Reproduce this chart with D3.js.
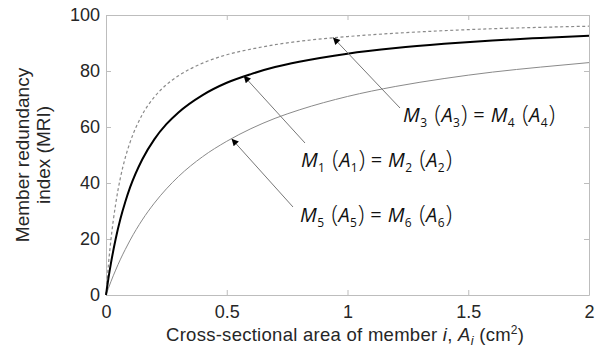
<!DOCTYPE html>
<html>
<head>
<meta charset="utf-8">
<script src="https://cdn.jsdelivr.net/npm/d3@7"></script>
<style>
  html, body { margin: 0; padding: 0; background: #fff; }
  svg { display: block; }
</style>
</head>
<body>
<svg id="chart" width="601" height="353"></svg>
<script>
// Cross-sectional area of member i (cm^2)
const area = [0, 0.01, 0.02, 0.04, 0.06, 0.08, 0.1, 0.15, 0.2, 0.25, 0.3, 0.4, 0.5,
              0.6, 0.7, 0.8, 1.0, 1.2, 1.4, 1.6, 1.8, 2.0];
// Member redundancy index (MRI) for each pair of members
const mriM3M4 = [0, 10.8, 19.4, 32.5, 42.0, 49.1, 54.6, 64.4, 70.7, 75.1, 78.3, 82.8, 85.8,
                 87.8, 89.4, 90.6, 92.3, 93.5, 94.4, 95.1, 95.6, 96.0];
const mriM1M2 = [0, 5.9, 11.1, 20.0, 27.3, 33.3, 38.5, 48.4, 55.6, 61.0, 65.2, 71.4, 75.8,
                 78.9, 81.4, 83.3, 86.2, 88.2, 89.7, 90.9, 91.8, 92.6];
const mriM5M6 = [0, 2.4, 4.7, 8.9, 12.8, 16.3, 19.6, 26.8, 32.8, 37.9, 42.3, 49.4, 54.9,
                 59.4, 63.1, 66.1, 70.9, 74.5, 77.3, 79.6, 81.4, 83.0];

const xTicks = [0, 0.5, 1, 1.5, 2];
const yTicks = [0, 20, 40, 60, 80, 100];

// Annotations: member pair numbers, and the [area, MRI] point each arrow targets
const labels = [
  { pair: ["3", "4"], target: [0.94, 92.0] },
  { pair: ["1", "2"], target: [0.57, 78.3] },
  { pair: ["5", "6"], target: [0.52, 55.8] }
];

const svg = d3.select("#chart");
const margin = { left: 106, top: 15, right: 12, bottom: 58 };
const W = 601, H = 353;
const x = d3.scaleLinear().domain([0, 2]).range([margin.left, W - margin.right]);
const y = d3.scaleLinear().domain([0, 100]).range([H - margin.bottom, margin.top]);

const axisColor = "#bdbdbd";
const textColor = "#262626";
const tickFont = "Liberation Sans, Arial, sans-serif";

function styleAxis(g, showText) {
  g.select(".domain").attr("stroke", axisColor).attr("stroke-width", 1);
  g.selectAll(".tick line").attr("stroke", axisColor).attr("stroke-width", 1);
  g.selectAll(".tick text")
    .attr("fill", textColor)
    .style("font-family", tickFont)
    .style("font-size", "18px")
    .style("display", showText ? null : "none");
}

// Box with inward ticks on all four sides
svg.append("g").attr("transform", `translate(0,${y(0)})`)
  .call(d3.axisBottom(x).tickValues(xTicks).tickSizeInner(-5).tickSizeOuter(0).tickPadding(10)
        .tickFormat(d3.format("")))
  .call(g => styleAxis(g, true));
svg.append("g").attr("transform", `translate(${x(0)},0)`)
  .call(d3.axisLeft(y).tickValues(yTicks).tickSizeInner(-5).tickSizeOuter(0).tickPadding(6))
  .call(g => styleAxis(g, true));
svg.append("g").attr("transform", `translate(0,${y(100)})`)
  .call(d3.axisTop(x).tickValues(xTicks).tickSizeInner(-5).tickSizeOuter(0))
  .call(g => styleAxis(g, false));
svg.append("g").attr("transform", `translate(${x(2)},0)`)
  .call(d3.axisRight(y).tickValues(yTicks).tickSizeInner(-5).tickSizeOuter(0))
  .call(g => styleAxis(g, false));

// Curves
const line = d3.line().x((d, i) => x(area[i])).y(d => y(d)).curve(d3.curveMonotoneX);
svg.append("path").datum(mriM5M6).attr("d", line)
  .attr("fill", "none").attr("stroke", "#8a8a8a").attr("stroke-width", 1);
svg.append("path").datum(mriM3M4).attr("d", line)
  .attr("fill", "none").attr("stroke", "#8a8a8a").attr("stroke-width", 1.2)
  .attr("stroke-dasharray", "3,2.5");
svg.append("path").datum(mriM1M2).attr("d", line)
  .attr("fill", "none").attr("stroke", "#000").attr("stroke-width", 2);

// Axis titles
svg.append("text")
  .attr("x", 166).attr("y", 341)
  .attr("textLength", 358).attr("lengthAdjust", "spacing")
  .attr("fill", textColor)
  .style("font-family", tickFont).style("font-size", "18.5px")
  .call(t => {
    t.append("tspan").text("Cross-sectional area of member ");
    t.append("tspan").attr("font-style", "italic").text("i");
    t.append("tspan").text(", ");
    t.append("tspan").attr("font-style", "italic").text("A");
    t.append("tspan").attr("font-style", "italic").attr("font-size", "13px").attr("dy", 4).text("i");
    t.append("tspan").attr("dy", -4).text(" (cm");
    t.append("tspan").attr("font-size", "12px").attr("dy", -7).text("2");
    t.append("tspan").attr("dy", 7).text(")");
  });

const yTitle = svg.append("text")
  .attr("transform", `translate(0,${(y(0) + y(100)) / 2}) rotate(-90)`)
  .attr("text-anchor", "middle").attr("fill", textColor)
  .style("font-family", tickFont).style("font-size", "19px");
yTitle.append("tspan").attr("x", 0).attr("y", 29).text("Member redundancy");
yTitle.append("tspan").attr("x", 0).attr("y", 50).text("index (MRI)");

// Arrowhead marker
svg.append("defs").append("marker")
  .attr("id", "head").attr("viewBox", "0 0 10 10")
  .attr("refX", 10).attr("refY", 5)
  .attr("markerWidth", 10).attr("markerHeight", 7)
  .attr("markerUnits", "userSpaceOnUse")
  .attr("orient", "auto")
  .append("path").attr("d", "M0,0 L10,5 L0,10 Z").attr("fill", "#000");

// Annotation label positions (left, middle-line y, width) and arrow tails
const labelPos = [[403, 115, 152, 400, 108], [301, 160, 151, 305, 143], [300, 215, 152, 293, 207]];

labels.forEach((lab, i) => {
  const [lx, ly, lw, ax, ay] = labelPos[i];
  svg.append("line")
    .attr("x1", ax).attr("y1", ay)
    .attr("x2", x(lab.target[0])).attr("y2", y(lab.target[1]))
    .attr("stroke", "#777").attr("stroke-width", 1)
    .attr("marker-end", "url(#head)");

  const [a, b] = lab.pair;
  const t = svg.append("text").attr("x", lx).attr("y", ly + 7)
    .attr("fill", "#111")
    .attr("textLength", lw).attr("lengthAdjust", "spacing")
    .style("font-family", "Open Sans, sans-serif").style("font-size", "20px");
  const piece = (txt, opts = {}) => {
    const s = t.append("tspan").text(txt);
    if (opts.italic) s.attr("font-style", "italic");
    if (opts.size) s.attr("font-size", opts.size);
    if (opts.dy) s.attr("dy", opts.dy);
    if (opts.weight) s.attr("font-weight", opts.weight);
    return s;
  };
  const sym = (letter, sub) => {
    piece(letter, { italic: true });
    piece(sub, { size: "12px", dy: 5 });
    piece("\u200a", { size: "1px", dy: -5 });
  };
  sym("M", a);
  piece(" (", { size: "24px", weight: 300 });
  sym("A", a);
  piece(")", { size: "24px", weight: 300 });
  piece(" = ");
  sym("M", b);
  piece(" (", { size: "24px", weight: 300 });
  sym("A", b);
  piece(")", { size: "24px", weight: 300 });
});
</script>
</body>
</html>
